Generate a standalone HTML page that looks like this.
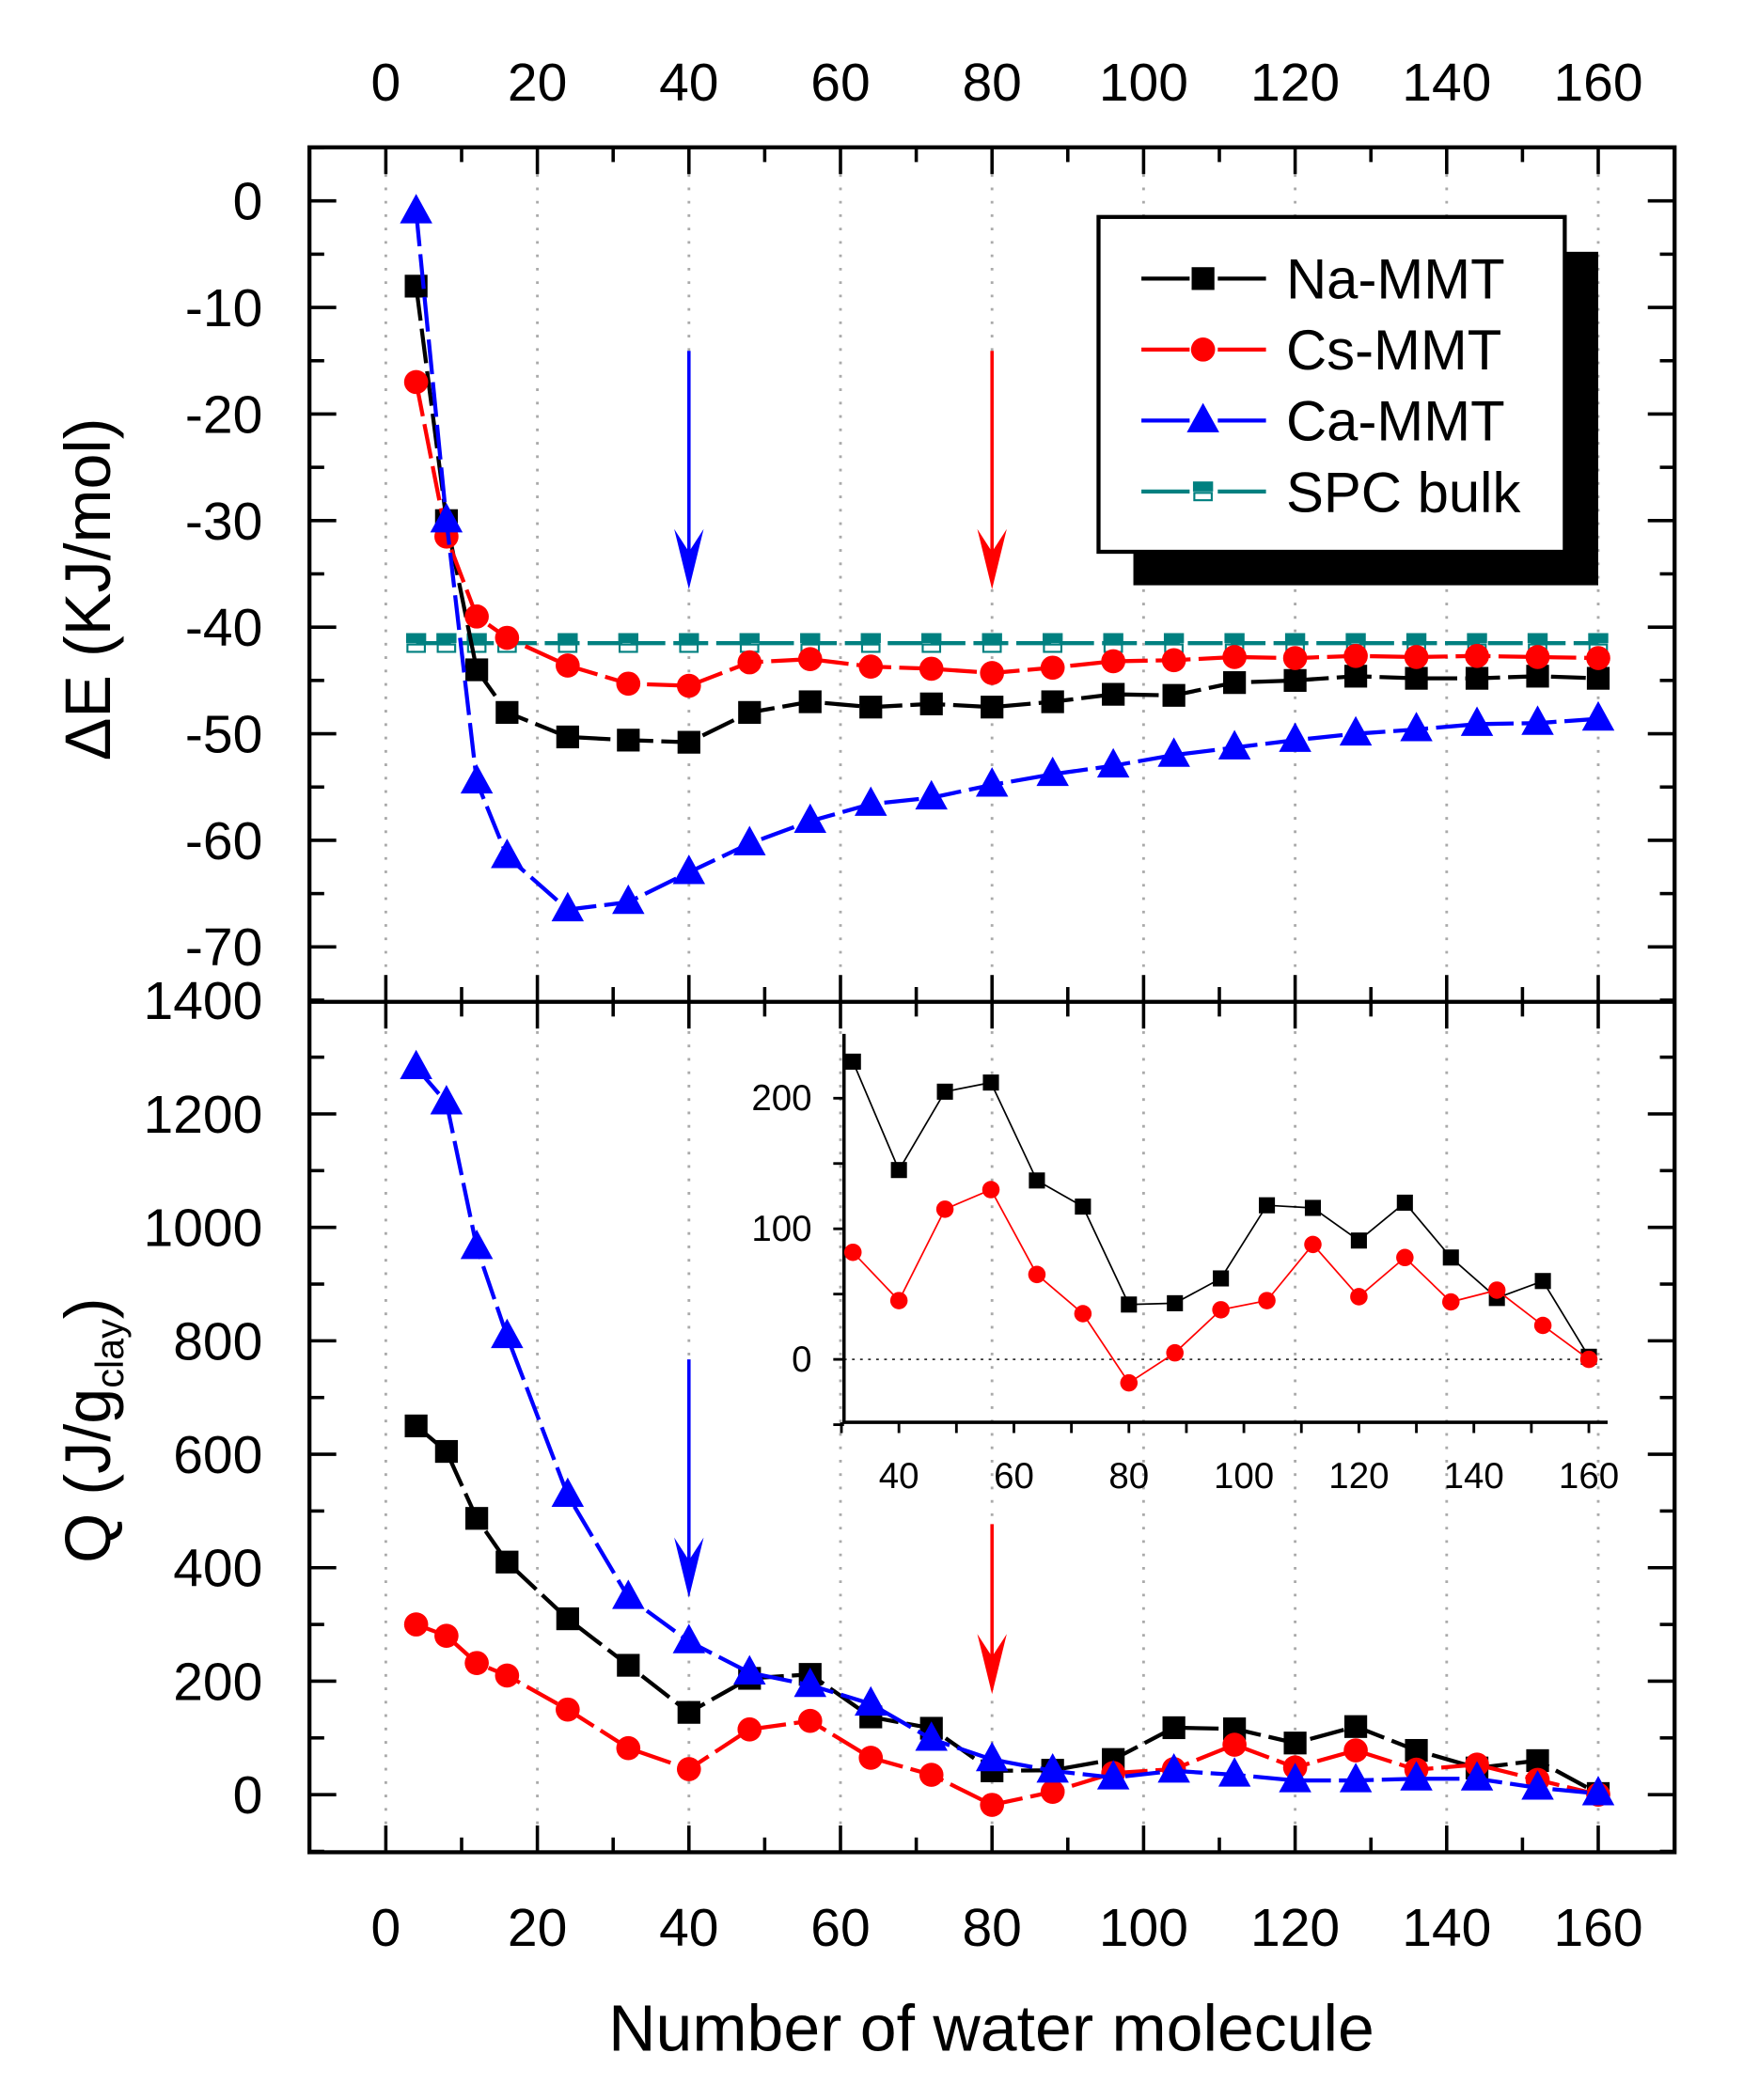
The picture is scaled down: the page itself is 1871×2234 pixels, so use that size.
<!DOCTYPE html>
<html><head><meta charset="utf-8"><style>
html,body{margin:0;padding:0;background:#fff}
svg{display:block}
text{font-family:"Liberation Sans",sans-serif;fill:#000}
</style></head><body>
<svg id="chart" width="1871" height="2234" viewBox="0 0 1313 1568" preserveAspectRatio="none" xmlns="http://www.w3.org/2000/svg">
<g id="g"></g>
</svg>
<script>
const xs = [4,8,12,16,24,32,40,48,56,64,72,80,88,96,104,112,120,128,136,144,152,160];
const naE = [-8,-30,-44,-48,-50.3,-50.6,-50.8,-48,-47,-47.5,-47.2,-47.5,-47,-46.3,-46.4,-45.2,-45,-44.6,-44.8,-44.8,-44.6,-44.8];
const csE = [-17,-31.5,-39,-41,-43.6,-45.3,-45.5,-43.3,-43,-43.7,-43.9,-44.3,-43.8,-43.2,-43.1,-42.8,-42.9,-42.7,-42.8,-42.7,-42.8,-42.9];
const caE = [-1,-30,-54.5,-61.5,-66.5,-65.8,-63,-60.3,-58.2,-56.6,-56,-54.8,-53.8,-53,-52,-51.3,-50.6,-50,-49.6,-49.1,-49,-48.6];
const spcE = [-41.5,-41.5,-41.5,-41.5,-41.5,-41.5,-41.5,-41.5,-41.5,-41.5,-41.5,-41.5,-41.5,-41.5,-41.5,-41.5,-41.5,-41.5,-41.5,-41.5,-41.5,-41.5];
const naQ = [650,605,487,410,310,228,145,205,212,137,117,42,43,62,118,116,91,120,78,47,60,2];
const csQ = [300,280,232,210,150,82,45,115,130,65,35,-18,5,38,45,88,48,78,44,53,26,0];
const caQ = [1282,1220,965,808,528,348,270,215,193,160,98,62,42,30,42,35,25,25,28,28,12,2];
const xTicks = [0,20,40,60,80,100,120,140,160];
const eTicks = [0,-10,-20,-30,-40,-50,-60,-70];
const qTicks = [0,200,400,600,800,1000,1200,1400];
const insetXTicks = [40,60,80,100,120,140,160];
const insetYTicks = [0,100,200];

const NS="http://www.w3.org/2000/svg";
const G=document.getElementById('g');
function el(tag,attrs,parent){const e=document.createElementNS(NS,tag);for(const k in attrs)e.setAttribute(k,attrs[k]);(parent||G).appendChild(e);return e;}
const L=231,R=1250,T=110,M=748,B=1383;
const X=v=>288+(v-0)*(1193-288)/160;
const YE=v=>150+(-v)*(707-150)/70;
const YQ=v=>1340-v*(1340-747)/1400;
const IX=v=>671+(v-40)*(1186-671)/120;
const IY=v=>1015-v*(1015-820)/200;

for(const t of xTicks){
  const gl=el('line',{x1:X(t),x2:X(t),y1:T,y2:B,stroke:'#aaa','stroke-width':2,'stroke-dasharray':'2,8'});
  
  
}

function tk(x1,y1,x2,y2){el('line',{x1,y1,x2,y2,stroke:'#000','stroke-width':2.5});}
for(let v=0;v<=160;v+=10){const x=X(v),len=(v%20===0)?20:11;
  tk(x,T,x,T+len);tk(x,B,x,B-len);tk(x,M,x,M+len);tk(x,M,x,M-len);}
for(let v=5;v>=-75;v-=5){const y=YE(v);if(y<T||y>M)continue;const len=(v%10===0)?20:11;tk(L,y,L+len,y);tk(R,y,R-len,y);}
for(let v=-100;v<=1400;v+=100){const y=YQ(v);if(y<M||y>B)continue;const len=(v%200===0)?20:11;tk(L,y,L+len,y);tk(R,y,R-len,y);}

el('rect',{x:L,y:T,width:R-L,height:B-T,fill:'none',stroke:'#000','stroke-width':3});
el('line',{x1:L,x2:R,y1:M,y2:M,stroke:'#000','stroke-width':3});

for(const t of xTicks){
  const a=el('text',{x:X(t),y:75,'font-size':40,'text-anchor':'middle'});a.textContent=t;
  
  const b=el('text',{x:X(t),y:1453,'font-size':40,'text-anchor':'middle'});b.textContent=t;
  
}
for(const t of eTicks){const a=el('text',{x:196,y:YE(t)+14,'font-size':40,'text-anchor':'end'});a.textContent=t;
  }
for(const t of qTicks){const a=el('text',{x:196,y:YQ(t)+14,'font-size':40,'text-anchor':'end'});a.textContent=t;
  }

let tt=el('text',{x:740,y:1531,'font-size':49,'text-anchor':'middle'});tt.textContent='Number of water molecule';

tt=el('text',{x:0,y:0,'font-size':48,'text-anchor':'middle',transform:'translate(82,440) rotate(-90)'});tt.textContent='ΔE (KJ/mol)';

tt=el('text',{x:0,y:0,'font-size':48,'text-anchor':'middle',transform:'translate(82,1068) rotate(-90)'});
tt.innerHTML='Q (J/g<tspan font-size="29" dy="10">clay</tspan><tspan dy="-10">)</tspan>';


function marker(type,x,y,color,s,parent,name){
  let m;
  if(type==='sq'){m=el('rect',{x:x-s/2,y:y-s/2,width:s,height:s,fill:color},parent);}
  else if(type==='ci'){m=el('circle',{cx:x,cy:y,r:s/2,fill:color},parent);}
  else if(type==='tr'){m=el('polygon',{points:`${x},${y-s*0.6} ${x-s*0.55},${y+s*0.4} ${x+s*0.55},${y+s*0.4}`,fill:color},parent);}
  else {m=el('g',{},parent);el('rect',{x:x-s/2,y:y-s/2,width:s,height:s/2,fill:color},m);el('rect',{x:x-s/2+1,y:y+1,width:s-2,height:s/2-2,fill:'#fff',stroke:color,'stroke-width':1.5},m);}
  
  
}
function series(vals,xf,yf,color,type,size,name,dash,w){
  const pts=vals.map((v,i)=>`${xf(xs[i])},${yf(v)}`).join(' ');
  const pl=el('polyline',{points:pts,fill:'none',stroke:color,'stroke-width':w,'stroke-dasharray':dash});
  
  
  vals.forEach((v,i)=>marker(type,xf(xs[i]),yf(v),color,size,null,name+'-point'));
}
series(spcE,X,YE,'#008080','half',15,'spc-bulk-energy','26,6',3);
series(naE,X,YE,'#000','sq',17,'na-mmt-energy','26,6',3);
series(csE,X,YE,'#f00','ci',18,'cs-mmt-energy','26,6',3);
series(caE,X,YE,'#00f','tr',22,'ca-mmt-energy','26,6',3);
series(naQ,X,YQ,'#000','sq',17,'na-mmt-heat','26,6',3);
series(csQ,X,YQ,'#f00','ci',18,'cs-mmt-heat','26,6',3);
series(caQ,X,YQ,'#00f','tr',22,'ca-mmt-heat','26,6',3);

function arrow(x,y1,y2,color,name){
  const g=el('g',{});
  el('line',{x1:x,x2:x,y1:y1,y2:y2-10,stroke:color,'stroke-width':2.5},g);
  el('polygon',{points:`${x},${y2} ${x-11},${y2-45} ${x},${y2-28} ${x+11},${y2-45}`,fill:color},g);
}
arrow(X(40),262,440,'#00f','blue-arrow-top');
arrow(X(80),262,440,'#f00','red-arrow-top');
arrow(X(40),1015,1193,'#00f','blue-arrow-bottom');
arrow(X(80),1138,1265,'#f00','red-arrow-bottom');

const lg=el('g',{});
el('rect',{x:846,y:188,width:347,height:249,fill:'#000'},lg);
el('rect',{x:820,y:162,width:348,height:250,fill:'#fff',stroke:'#000','stroke-width':3},lg);
const legNames=['Na-MMT','Cs-MMT','Ca-MMT','SPC bulk'];
const legCols=['#000','#f00','#00f','#008080'];
const legTypes=['sq','ci','tr','half'];
const legSizes=[17,18,22,15];
legNames.forEach((n,i)=>{const y=208+i*53;
  el('line',{x1:852,x2:945,y1:y,y2:y,stroke:legCols[i],'stroke-width':3,'stroke-dasharray':'36,21,36'},lg);
  marker(legTypes[i],898,y,legCols[i],legSizes[i],lg,'legend-marker');
  const t=el('text',{x:960,y:y+15,'font-size':42},lg);t.textContent=n;
  
});

const ig=el('g',{});
el('line',{x1:630,x2:1200,y1:1015,y2:1015,stroke:'#333','stroke-width':1.2,'stroke-dasharray':'2,4'},ig);
el('line',{x1:630,x2:630,y1:772,y2:1063,stroke:'#000','stroke-width':2.5},ig);
el('line',{x1:629,x2:1200,y1:1062,y2:1062,stroke:'#000','stroke-width':2.5},ig);
for(let v=-50;v<=250;v+=50){const y=IY(v);if(y<772)continue;el('line',{x1:622,x2:630,y1:y,y2:y,stroke:'#000','stroke-width':2},ig);}
for(let v=30;v<=160;v+=10){el('line',{x1:IX(v),x2:IX(v),y1:1062,y2:1070,stroke:'#000','stroke-width':2},ig);}
for(const t of insetYTicks){const a=el('text',{x:606,y:IY(t)+9,'font-size':27,'text-anchor':'end'},ig);a.textContent=t;
  }
for(const t of insetXTicks){const a=el('text',{x:IX(t),y:1111,'font-size':27,'text-anchor':'middle'},ig);a.textContent=t;
  }
function iseries(vals,color,type,size,name){
  const idx=xs.map((x,i)=>i).filter(i=>xs[i]>=32);
  const pts=idx.map(i=>`${IX(xs[i])},${IY(vals[i])}`).join(' ');
  const pl=el('polyline',{points:pts,fill:'none',stroke:color,'stroke-width':1.2},ig);
  
  idx.forEach(i=>marker(type,IX(xs[i]),IY(vals[i]),color,size,ig,name+'-point'));
}
iseries(naQ,'#000','sq',12,'inset-na-mmt');
iseries(csQ,'#f00','ci',13,'inset-cs-mmt');
</script>
</body></html>
